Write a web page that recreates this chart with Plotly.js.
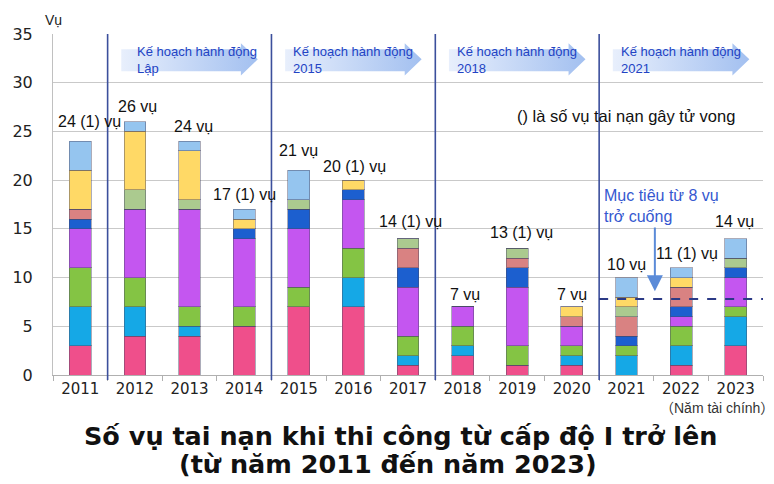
<!DOCTYPE html>
<html><head><meta charset="utf-8">
<script src="https://cdn.plot.ly/plotly-3.0.1.min.js"></script>
<style>html,body{margin:0;padding:0;background:#fff}#chart{width:774px;height:484px}</style>
</head><body><div id="chart"></div>
<script>
// ---- data ----
const years = [2011,2012,2013,2014,2015,2016,2017,2018,2019,2020,2021,2022,2023];
const pink      = [3,4,4,5,7,7,1,2,1,1,0,1,3];
const cyan      = [4,3,1,0,0,3,1,1,0,1,2,2,3];
const green     = [4,3,2,2,2,3,2,2,2,1,1,2,1];
const purple    = [4,7,10,7,6,5,5,2,6,2,0,1,3];
const darkBlue  = [1,0,0,1,2,1,2,0,2,0,1,1,1];
const rose      = [1,0,0,0,0,0,2,0,1,1,2,2,0];
const olive     = [0,2,1,0,1,0,1,0,1,0,1,0,1];
const yellow    = [4,6,5,1,0,1,0,0,0,1,1,1,0];
const lightBlue = [3,1,1,1,3,0,0,0,0,0,2,1,2];
const fatal     = [1,0,0,1,0,1,1,0,1,0,0,1,0];
const targetValue = 7.8;
const planNames  = ['Lập','2015','2018','2021'];
const planStarts = [2011.5,2014.5,2017.5,2020.5];
const planEnds   = [2014.5,2017.5,2020.5,2023.5];

// ---- styling ----
const seriesList = [
  {name:'Loại 1', y:pink,      color:'#ef4f8b'},
  {name:'Loại 2', y:cyan,      color:'#15a8e6'},
  {name:'Loại 3', y:green,     color:'#84c444'},
  {name:'Loại 4', y:purple,    color:'#c456f0'},
  {name:'Loại 5', y:darkBlue,  color:'#1c5fcf'},
  {name:'Loại 6', y:rose,      color:'#d98282'},
  {name:'Loại 7', y:olive,     color:'#abca8f'},
  {name:'Loại 8', y:yellow,    color:'#ffd966'},
  {name:'Loại 9', y:lightBlue, color:'#95c5ef'}
];
const labelDx = [9,3,4,0,0,1,2,2,4,0,0,6,-1];
const labelDy = [20,15,15,15,20,14,17,12,16,12,13,14,17];

const traces = seriesList.map(s => ({
  type:'bar', x:years, y:s.y, name:s.name, width:0.4,
  marker:{color:s.color, line:{color:'rgba(70,70,100,0.45)', width:1}},
  hoverinfo:'x+y', showlegend:false
}));

// plan arrows (decorative)
const annotations = [];
const shapes = [];
planStarts.forEach((s,i) => {
  const x0 = s + 0.25, tip = planEnds[i] - 0.25, h = tip - 0.31;
  traces.push({
    type:'scatter', mode:'none', fill:'toself', hoverinfo:'skip', showlegend:false,
    x:[x0,h,h,tip,h,h,x0,x0],
    y:[33.44,33.44,34.06,32.4,30.75,31.17,31.17,33.44],
    fillgradient:{type:'horizontal', colorscale:[[0,'rgb(232,239,252)'],[1,'rgb(163,192,240)']]}
  });
  annotations.push({
    x:x0, y:32.35, xref:'x', yref:'y', xanchor:'left', yanchor:'middle', align:'left',
    xshift: i===0 ? 14 : 6, showarrow:false,
    text:'Kế hoạch hành động<br>' + planNames[i],
    font:{family:'Liberation Sans, Arial, sans-serif', size:13, color:'#2243c4'}
  });
  shapes.push({type:'line', xref:'x', yref:'paper', x0:s, x1:s, y0:-0.015, y1:1,
    line:{color:'#3b4f9c', width:1.6}});
});

// total labels
const totals = years.map((_,i) => seriesList.reduce((a,s)=>a+s.y[i],0));
years.forEach((yr,i) => {
  annotations.push({
    x:yr, y:totals[i], xref:'x', yref:'y', yanchor:'middle', xanchor:'center',
    xshift:labelDx[i], yshift:labelDy[i], showarrow:false,
    text: totals[i] + (fatal[i] ? ' (' + fatal[i] + ')' : '') + ' vụ',
    font:{family:'Liberation Sans, Arial, sans-serif', size:16, color:'#111'}
  });
});

// target line
shapes.push({type:'line', xref:'x', yref:'y', x0:2020.5, x1:2023.6, y0:targetValue, y1:targetValue,
  line:{color:'#2b3a86', width:2, dash:'dash'}});

annotations.push(
  {x:2021.52, y:8.6, ax:2021.52, ay:15.3, xref:'x', yref:'y', axref:'x', ayref:'y',
   showarrow:true, arrowhead:2, arrowsize:1.6, arrowwidth:2, arrowcolor:'#5b8bd8', text:''},
  {x:2020.55, y:17.3, xref:'x', yref:'y', xanchor:'left', yanchor:'middle', align:'left', showarrow:false,
   text:'Mục tiêu từ 8 vụ<br>trở cuống',
   font:{family:'Liberation Sans, Arial, sans-serif', size:16, color:'#3558d0'}},
  {x:1, y:26.6, xref:'paper', yref:'y', xanchor:'right', yanchor:'middle', xshift:-26, showarrow:false,
   text:'() là số vụ tai nạn gây tử vong',
   font:{family:'Liberation Sans, Arial, sans-serif', size:16.5, color:'#111'}},
  {x:0, y:1, xref:'paper', yref:'paper', xanchor:'left', yanchor:'bottom', xshift:-10, yshift:4, showarrow:false,
   text:'Vụ', font:{family:'Liberation Sans, Arial, sans-serif', size:14, color:'#222'}},
  {x:1, y:0, xref:'paper', yref:'paper', xanchor:'right', yanchor:'middle', xshift:13, yshift:-33, showarrow:false,
   text:'（Năm tài chính）', font:{family:'Liberation Sans, Noto Sans CJK JP, sans-serif', size:14, color:'#333'}},
  {x:(400-53)/710, y:0, xref:'paper', yref:'paper', xanchor:'center', yanchor:'middle', yshift:-61, showarrow:false,
   text:'<b>Số vụ tai nạn khi thi công từ cấp độ I trở lên</b>',
   font:{family:'DejaVu Sans, sans-serif', size:25.5, color:'#111'}},
  {x:(388-53)/710, y:0, xref:'paper', yref:'paper', xanchor:'center', yanchor:'middle', yshift:-89, showarrow:false,
   text:'<b>(từ năm 2011 đến năm 2023)</b>',
   font:{family:'DejaVu Sans, sans-serif', size:25.5, color:'#111'}}
);

const layout = {
  width:774, height:484,
  margin:{l:53, r:11, t:34, b:109, pad:0},
  paper_bgcolor:'#fff', plot_bgcolor:'#fff',
  barmode:'stack', showlegend:false,
  xaxis:{range:[2010.5,2023.5], tickmode:'array', tickvals:years, ticktext:years.map(String),
    showgrid:false, zeroline:false, showline:true, linecolor:'#b0b0b0', linewidth:1,
    ticks:'', tickfont:{family:'DejaVu Sans, sans-serif', size:15, color:'#222'},
    minor:{tick0:2010.5, dtick:1, ticks:'outside', ticklen:5, tickcolor:'#b0b0b0', showgrid:false}},
  yaxis:{range:[0,35], tickmode:'array', tickvals:[0,5,10,15,20,25,30,35],
    showgrid:true, gridcolor:'#c9c9c9', gridwidth:1, zeroline:false,
    showline:true, linecolor:'#c0c0c0', linewidth:1, ticks:'', ticklabelstandoff:16,
    tickfont:{family:'DejaVu Sans, sans-serif', size:16, color:'#222'}},
  shapes:shapes, annotations:annotations
};

Plotly.newPlot('chart', traces, layout, {displayModeBar:false, staticPlot:true});
</script>
</body></html>
